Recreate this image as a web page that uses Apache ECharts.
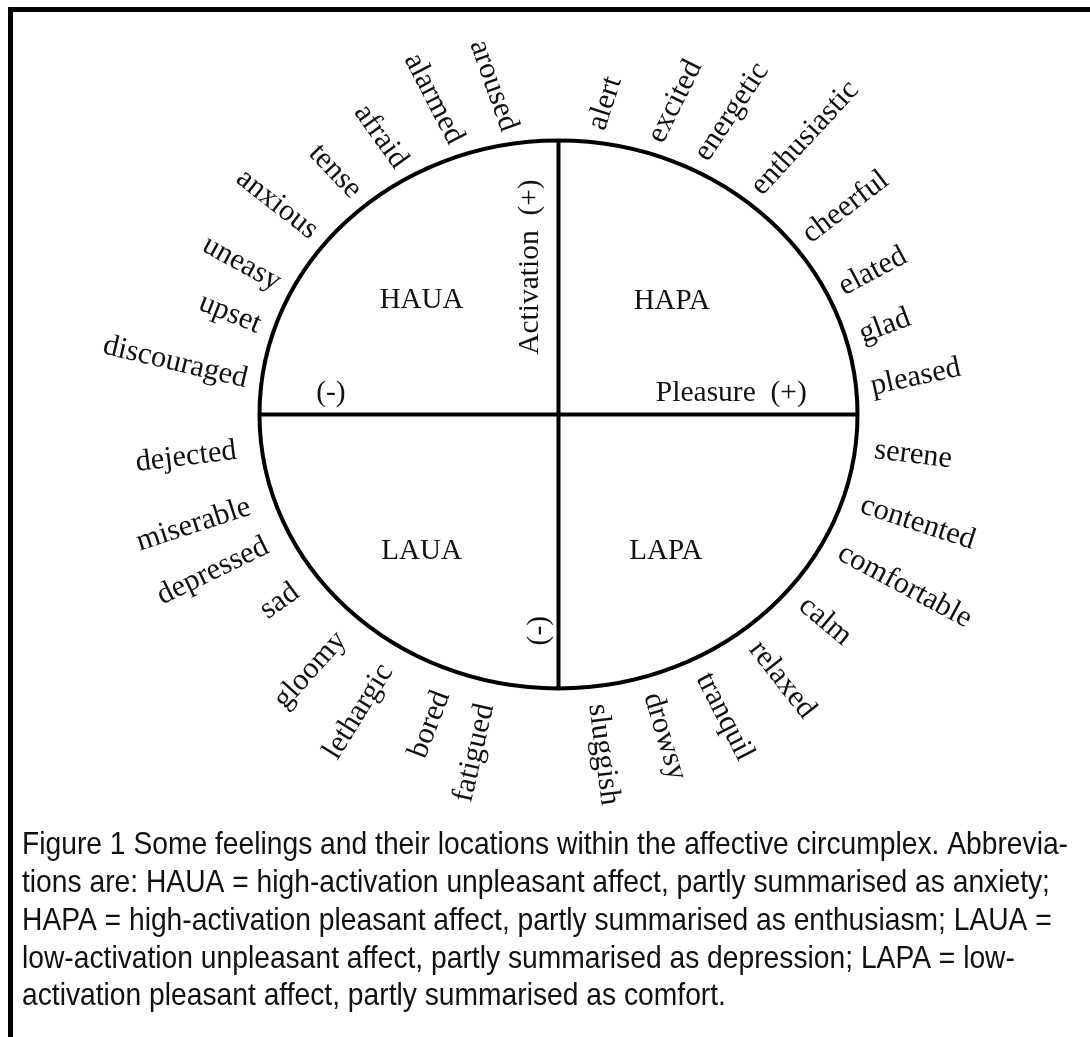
<!DOCTYPE html>
<html>
<head>
<meta charset="utf-8">
<script src="https://cdn.jsdelivr.net/npm/echarts@6/dist/echarts.min.js"></script>
<style>
html,body{margin:0;padding:0;background:#fff;}
#chart{width:1090px;height:1037px;}
</style>
</head>
<body>
<div id="chart"></div>
<script>
// ---- data ----
const words = ['alert','excited','energetic','enthusiastic','cheerful','elated','glad','pleased',
  'serene','contented','comfortable','calm','relaxed','tranquil','drowsy','sluggish',
  'fatigued','bored','lethargic','gloomy','sad','depressed','miserable','dejected',
  'discouraged','upset','uneasy','anxious','tense','afraid','alarmed','aroused'];
// angular location on the circumplex, degrees (0 = pleasure +, 90 = activation +)
const angles = [83,72,63,51,38,26,16,5.5,
  -7,-18,-28,-40,-52,-63,-73,-83,
  -103,-111,-122,-132,-144,-154,-162,-173,
  173,162,153,141,130,120,109,99];
const quadrantLabels = ['HAUA','HAPA','LAUA','LAPA'];
const axisTexts = ['Activation  (+)', '(-)', 'Pleasure  (+)', '(-)'];
const captionLines = [
  'Figure 1 Some feelings and their locations within the affective circumplex. Abbrevia-',
  'tions are: HAUA = high-activation unpleasant affect, partly summarised as anxiety;',
  'HAPA = high-activation pleasant affect, partly summarised as enthusiasm; LAUA =',
  'low-activation unpleasant affect, partly summarised as depression; LAPA = low-',
  'activation pleasant affect, partly summarised as comfort.'
];

// ---- layout ----
const serif = '"Liberation Serif", "Times New Roman", Times, serif';
const wordSize = 30.5;
const quadrantPos = [[-0.458,0.415],[0.379,0.411],[-0.458,-0.498],[0.359,-0.498]];
const axisTextPos = [[-0.093,0.538,90],[-0.761,0.076,0],[0.578,0.076,0],[-0.063,-0.789,90]];
function ringRadius(a) {
  if (a > 0) return 1.05;
  return Math.abs(a) < 90 ? 1.065 : 1.085;
}

const chart = echarts.init(document.getElementById('chart'), null, {renderer:'canvas'});

const capFontFamily = '"Liberation Sans Narrow", "Liberation Sans", Arial, sans-serif';
const capSize = 32;
const ctx = document.createElement('canvas').getContext('2d');
ctx.font = capSize + 'px ' + capFontFamily;
const capScale = 1046 / ctx.measureText(captionLines[0]).width;
const capY = [845, 883, 921, 959, 996];

const wordData = angles.map((a, i) => {
  const r = a * Math.PI / 180;
  const R = ringRadius(a);
  return {name: words[i], value: [R * Math.cos(r), R * Math.sin(r)]};
});

const option = {
  backgroundColor: '#fff',
  animation: false,
  grid: {left: 50.2, top: 58.3, width: 1016.6, height: 712.4, containLabel: false},
  xAxis: {type: 'value', min: -1.7, max: 1.7, show: false},
  yAxis: {type: 'value', min: -1.3, max: 1.3, show: false},
  graphic: [
    {type: 'rect', shape: {x: 10.5, y: 9.5, width: 1300, height: 1300},
     style: {fill: 'none', stroke: '#000', lineWidth: 5}, z: 10}
  ].concat(captionLines.map((t, i) => ({
    type: 'text', x: 22, y: capY[i], scaleX: capScale,
    style: {text: t, fontSize: capSize, fontFamily: capFontFamily, fill: '#111',
            align: 'left', verticalAlign: 'middle'}
  }))),
  series: [
    {
      type: 'custom', coordinateSystem: 'cartesian2d', silent: true,
      data: [[0, 0]],
      renderItem: (params, api) => {
        const c = api.coord([0, 0]);
        const s = api.size([1, 1]);
        const st = {fill: 'none', stroke: '#000', lineWidth: 4};
        return {type: 'group', children: [
          {type: 'ellipse', shape: {cx: c[0], cy: c[1], rx: s[0], ry: s[1]}, style: st},
          {type: 'line', shape: {x1: c[0] - s[0], y1: c[1], x2: c[0] + s[0], y2: c[1]}, style: {stroke: '#000', lineWidth: 4}},
          {type: 'line', shape: {x1: c[0], y1: c[1] - s[1], x2: c[0], y2: c[1] + s[1]}, style: {stroke: '#000', lineWidth: 4}}
        ]};
      }
    },
    {
      type: 'custom', coordinateSystem: 'cartesian2d', silent: true,
      data: wordData,
      renderItem: (params, api) => {
        const i = params.dataIndex;
        const a = angles[i];
        const p = api.coord([api.value(0), api.value(1)]);
        const right = Math.abs(a) < 90;
        const up = a > 0;
        const d = right ? Math.abs(a) : 180 - Math.abs(a);
        const tilt = (up ? 8 + 0.77 * d : d) * Math.PI / 180;
        const rot = right ? (up ? tilt : -tilt) : (up ? -tilt : tilt);
        return {type: 'text', x: p[0], y: p[1], rotation: rot,
          style: {text: words[i], fill: '#111', fontSize: wordSize, fontFamily: serif,
                  align: right ? 'left' : 'right', verticalAlign: 'middle'}};
      }
    },
    {
      type: 'custom', coordinateSystem: 'cartesian2d', silent: true,
      data: quadrantPos.map((p, i) => ({name: quadrantLabels[i], value: p})),
      renderItem: (params, api) => {
        const p = api.coord([api.value(0), api.value(1)]);
        return {type: 'text', x: p[0], y: p[1],
          style: {text: quadrantLabels[params.dataIndex], fill: '#111', fontSize: 29, fontFamily: serif,
                  align: 'center', verticalAlign: 'middle'}};
      }
    },
    {
      type: 'custom', coordinateSystem: 'cartesian2d', silent: true,
      data: axisTextPos.map((p, i) => ({name: axisTexts[i], value: [p[0], p[1]]})),
      renderItem: (params, api) => {
        const i = params.dataIndex;
        const p = api.coord([api.value(0), api.value(1)]);
        return {type: 'text', x: p[0], y: p[1], rotation: axisTextPos[i][2] * Math.PI / 180,
          style: {text: axisTexts[i], fill: '#111', fontSize: 29.5, fontFamily: serif,
                  align: 'center', verticalAlign: 'middle'}};
      }
    }
  ]
};
chart.setOption(option);
</script>
</body>
</html>
